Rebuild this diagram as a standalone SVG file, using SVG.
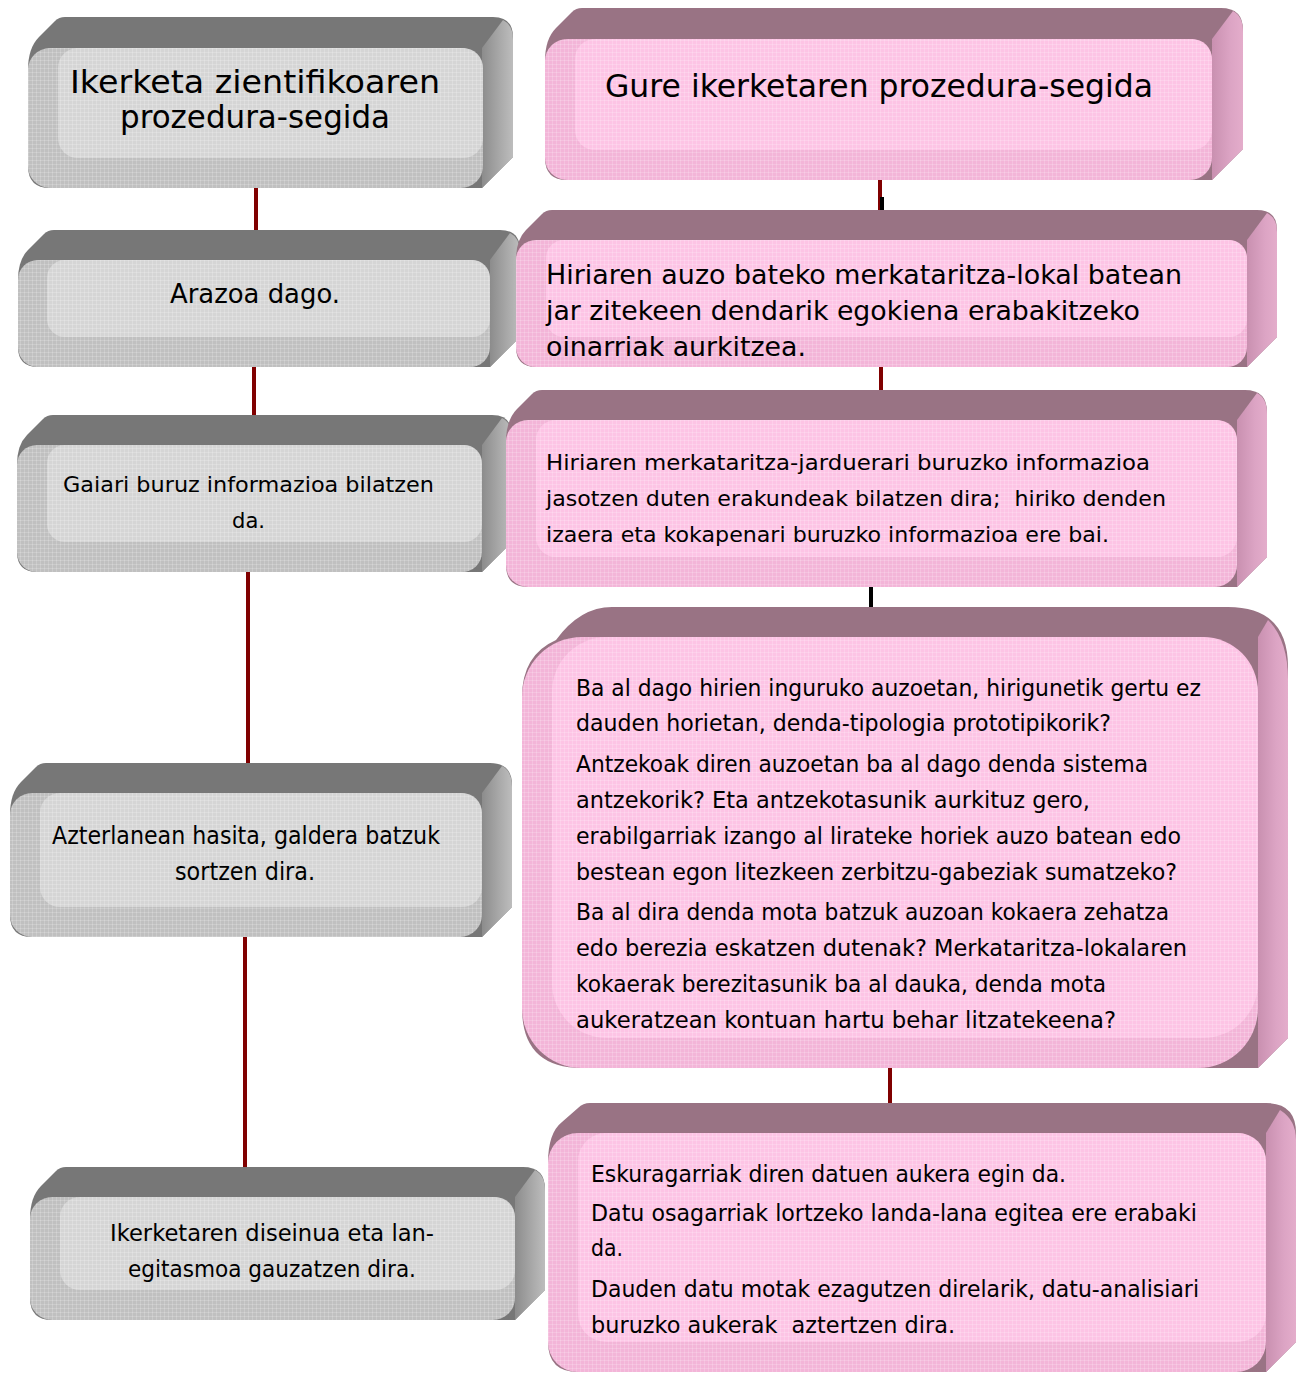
<svg xmlns="http://www.w3.org/2000/svg" width="1306" height="1374" viewBox="0 0 1306 1374">
<style>
text{font-family:"DejaVu Sans","Liberation Sans",sans-serif;fill:#000;}
.g .top{fill:#777777}.g .side{fill:url(#gSide)}.g .front{fill:#c0c0c0}.g .inner{fill:#d5d5d5}
.p .top{fill:#997384}.p .side{fill:url(#pSide)}.p .front{fill:#f3b5d8}.p .inner{fill:#fdc4e5}
.tex{fill:url(#tex)}
.red{stroke:#800000;stroke-width:4;fill:none}
.blk{stroke:#000;stroke-width:4;fill:none}
</style>
<defs>
<linearGradient id="gSide" x1="0" y1="0" x2="1" y2="0"><stop offset="0" stop-color="#8c8c8c"/><stop offset="0.6" stop-color="#aaaaaa"/><stop offset="1" stop-color="#bdbdbd"/></linearGradient>
<linearGradient id="pSide" x1="0" y1="0" x2="1" y2="0"><stop offset="0" stop-color="#c990b0"/><stop offset="0.6" stop-color="#dca4c4"/><stop offset="1" stop-color="#e4adcb"/></linearGradient>
<pattern id="tex" width="4" height="4" patternUnits="userSpaceOnUse"><rect width="4" height="1" fill="#ffffff" opacity="0.18"/><rect width="1" height="4" fill="#ffffff" opacity="0.18"/></pattern>
</defs>

<g id="connectors">
<line class="red" x1="256" y1="186" x2="256" y2="232"/>
<line class="red" x1="254" y1="365" x2="254" y2="417"/>
<line class="red" x1="248" y1="570" x2="248" y2="765"/>
<line class="red" x1="245" y1="935" x2="245" y2="1169"/>
<line class="red" x1="880" y1="178" x2="880" y2="212"/>
<line class="blk" x1="882" y1="197" x2="882" y2="212"/>
<line class="red" x1="881" y1="365" x2="881" y2="392"/>
<line class="blk" x1="871" y1="585" x2="871" y2="609"/>
<line class="red" x1="890" y1="1066" x2="890" y2="1105"/>
</g>

<g id="nodeA" class="g">
<path class="top" d="M65,17 L493,17 Q513,17 513,37 L513,157 L482,188 L50,188 Q28,188 28,166 L28,70 Q28,48 39,37 L55,21 Q59,17 65,17 Z"/>
<path class="side" d="M482,48 L503,20 Q513,25 513,40 L513,157 L482,188 Z"/>
<rect class="front" x="28" y="48" width="455" height="140" rx="22"/>
<rect class="inner" x="58" y="48" width="425" height="110" rx="20"/>
<rect class="tex" x="28" y="48" width="455" height="140" rx="22"/>
<text x="70" y="93" font-size="32" textLength="370" lengthAdjust="spacingAndGlyphs">Ikerketa zientifikoaren</text>
<text x="120" y="128" font-size="32" textLength="270" lengthAdjust="spacingAndGlyphs">prozedura-segida</text>
</g>

<g id="nodeC" class="g">
<path class="top" d="M54,230 L500,230 Q520,230 520,250 L520,337 L490,367 L38,367 Q18,367 18,347 L18,280 Q18,260 28,250 L44,234 Q48,230 54,230 Z"/>
<path class="side" d="M490,260 L510,233 Q520,238 520,252 L520,337 L490,367 Z"/>
<rect class="front" x="18" y="260" width="472" height="107" rx="20"/>
<rect class="inner" x="47" y="260" width="443" height="77" rx="18"/>
<rect class="tex" x="18" y="260" width="472" height="107" rx="20"/>
<text x="170" y="303" font-size="27" textLength="170" lengthAdjust="spacingAndGlyphs">Arazoa dago.</text>
</g>

<g id="nodeD" class="g">
<path class="top" d="M53,415 L492,415 Q512,415 512,435 L512,542 L482,572 L37,572 Q17,572 17,552 L17,465 Q17,445 27,435 L43,419 Q47,415 53,415 Z"/>
<path class="side" d="M482,445 L502,418 Q512,423 512,437 L512,542 L482,572 Z"/>
<rect class="front" x="17" y="445" width="465" height="127" rx="20"/>
<rect class="inner" x="47" y="445" width="435" height="97" rx="18"/>
<rect class="tex" x="17" y="445" width="465" height="127" rx="20"/>
<text x="63" y="492" font-size="22" textLength="371" lengthAdjust="spacingAndGlyphs">Gaiari buruz informazioa bilatzen</text>
<text x="232" y="528" font-size="22" textLength="33" lengthAdjust="spacingAndGlyphs">da.</text>
</g>

<g id="nodeE" class="g">
<path class="top" d="M46,763 L490,763 Q512,763 512,785 L512,907 L482,937 L32,937 Q10,937 10,915 L10,815 Q10,793 21,782 L36,767 Q40,763 46,763 Z"/>
<path class="side" d="M482,793 L502,766 Q512,771 512,787 L512,907 L482,937 Z"/>
<rect class="front" x="10" y="793" width="472" height="144" rx="22"/>
<rect class="inner" x="40" y="793" width="442" height="114" rx="20"/>
<rect class="tex" x="10" y="793" width="472" height="144" rx="22"/>
<text x="52" y="844" font-size="24" textLength="388" lengthAdjust="spacingAndGlyphs">Azterlanean hasita, galdera batzuk</text>
<text x="175" y="880" font-size="24" textLength="140" lengthAdjust="spacingAndGlyphs">sortzen dira.</text>
</g>

<g id="nodeF" class="g">
<path class="top" d="M66,1167 L523,1167 Q545,1167 545,1189 L545,1290 L515,1320 L52,1320 Q30,1320 30,1298 L30,1219 Q30,1197 41,1186 L56,1171 Q60,1167 66,1167 Z"/>
<path class="side" d="M515,1197 L535,1170 Q545,1175 545,1191 L545,1290 L515,1320 Z"/>
<rect class="front" x="30" y="1197" width="485" height="123" rx="22"/>
<rect class="inner" x="60" y="1197" width="455" height="93" rx="20"/>
<rect class="tex" x="30" y="1197" width="485" height="123" rx="22"/>
<text x="110" y="1241" font-size="23" textLength="324" lengthAdjust="spacingAndGlyphs">Ikerketaren diseinua eta lan-</text>
<text x="128" y="1277" font-size="23" textLength="288" lengthAdjust="spacingAndGlyphs">egitasmoa gauzatzen dira.</text>
</g>

<g id="nodeG" class="p">
<path class="top" d="M582,8 L1221,8 Q1243,8 1243,30 L1243,149 L1212,180 L567,180 Q545,180 545,158 L545,61 Q545,39 556,28 L572,12 Q576,8 582,8 Z"/>
<path class="side" d="M1212,39 L1233,11 Q1243,16 1243,32 L1243,149 L1212,180 Z"/>
<rect class="front" x="545" y="39" width="667" height="141" rx="22"/>
<rect class="inner" x="575" y="39" width="637" height="111" rx="20"/>
<rect class="tex" x="545" y="39" width="667" height="141" rx="22"/>
<text x="605" y="97" font-size="32" textLength="548" lengthAdjust="spacingAndGlyphs">Gure ikerketaren prozedura-segida</text>
</g>

<g id="nodeH" class="p">
<path class="top" d="M552,210 L1257,210 Q1277,210 1277,230 L1277,337 L1247,367 L536,367 Q516,367 516,347 L516,260 Q516,240 526,230 L542,214 Q546,210 552,210 Z"/>
<path class="side" d="M1247,240 L1267,213 Q1277,218 1277,232 L1277,337 L1247,367 Z"/>
<rect class="front" x="516" y="240" width="731" height="127" rx="20"/>
<rect class="inner" x="546" y="240" width="701" height="97" rx="18"/>
<rect class="tex" x="516" y="240" width="731" height="127" rx="20"/>
<text x="546" y="284" font-size="27" textLength="636" lengthAdjust="spacingAndGlyphs">Hiriaren auzo bateko merkataritza-lokal batean</text>
<text x="546" y="320" font-size="27" textLength="594" lengthAdjust="spacingAndGlyphs">jar zitekeen dendarik egokiena erabakitzeko</text>
<text x="546" y="356" font-size="27" textLength="260" lengthAdjust="spacingAndGlyphs">oinarriak aurkitzea.</text>
</g>

<g id="nodeI" class="p">
<path class="top" d="M542,390 L1245,390 Q1267,390 1267,412 L1267,557 L1237,587 L528,587 Q506,587 506,565 L506,442 Q506,420 517,409 L532,394 Q536,390 542,390 Z"/>
<path class="side" d="M1237,420 L1257,393 Q1267,398 1267,414 L1267,557 L1237,587 Z"/>
<rect class="front" x="506" y="420" width="731" height="167" rx="22"/>
<rect class="inner" x="536" y="420" width="701" height="137" rx="20"/>
<rect class="tex" x="506" y="420" width="731" height="167" rx="22"/>
<text x="546" y="470" font-size="22" textLength="604" lengthAdjust="spacingAndGlyphs">Hiriaren merkataritza-jarduerari buruzko informazioa</text>
<text x="546" y="506" font-size="22" textLength="620" lengthAdjust="spacingAndGlyphs" xml:space="preserve">jasotzen duten erakundeak bilatzen dira;  hiriko denden</text>
<text x="546" y="542" font-size="22" textLength="563" lengthAdjust="spacingAndGlyphs">izaera eta kokapenari buruzko informazioa ere bai.</text>
</g>

<g id="nodeJ" class="p">
<path class="top" d="M612,607 L1228,607 Q1288,607 1288,667 L1288,1038 L1258,1068 L582,1068 Q522,1068 522,1008 L522,697 Q522,655 556,640 Q580,607 612,607 Z"/>
<path class="side" d="M1258,637 L1268,620 Q1288,640 1288,680 L1288,1038 L1258,1068 Z"/>
<rect class="front" x="522" y="637" width="736" height="431" rx="60"/>
<rect class="inner" x="552" y="637" width="706" height="401" rx="55"/>
<rect class="tex" x="522" y="637" width="736" height="431" rx="60"/>
<g font-size="23">
<text x="576" y="696" textLength="625" lengthAdjust="spacingAndGlyphs">Ba al dago hirien inguruko auzoetan, hirigunetik gertu ez</text>
<text x="576" y="731" textLength="535" lengthAdjust="spacingAndGlyphs">dauden horietan, denda-tipologia prototipikorik?</text>
<text x="576" y="772" textLength="572" lengthAdjust="spacingAndGlyphs">Antzekoak diren auzoetan ba al dago denda sistema</text>
<text x="576" y="808" textLength="514" lengthAdjust="spacingAndGlyphs">antzekorik? Eta antzekotasunik aurkituz gero,</text>
<text x="576" y="844" textLength="605" lengthAdjust="spacingAndGlyphs">erabilgarriak izango al lirateke horiek auzo batean edo</text>
<text x="576" y="880" textLength="601" lengthAdjust="spacingAndGlyphs">bestean egon litezkeen zerbitzu-gabeziak sumatzeko?</text>
<text x="576" y="920" textLength="593" lengthAdjust="spacingAndGlyphs">Ba al dira denda mota batzuk auzoan kokaera zehatza</text>
<text x="576" y="956" textLength="611" lengthAdjust="spacingAndGlyphs">edo berezia eskatzen dutenak? Merkataritza-lokalaren</text>
<text x="576" y="992" textLength="530" lengthAdjust="spacingAndGlyphs">kokaerak berezitasunik ba al dauka, denda mota</text>
<text x="576" y="1028" textLength="540" lengthAdjust="spacingAndGlyphs">aukeratzean kontuan hartu behar litzatekeena?</text>
</g>
</g>

<g id="nodeK" class="p">
<path class="top" d="M590,1103 L1266,1103 Q1296,1103 1296,1133 L1296,1342 L1266,1372 L578,1372 Q548,1372 548,1342 L548,1163 Q548,1133 562,1122 L578,1108 Q583,1103 590,1103 Z"/>
<path class="side" d="M1266,1133 L1280,1110 Q1296,1120 1296,1140 L1296,1342 L1266,1372 Z"/>
<rect class="front" x="548" y="1133" width="718" height="239" rx="30"/>
<rect class="inner" x="578" y="1133" width="688" height="209" rx="28"/>
<rect class="tex" x="548" y="1133" width="718" height="239" rx="30"/>
<g font-size="23">
<text x="591" y="1182" textLength="475" lengthAdjust="spacingAndGlyphs">Eskuragarriak diren datuen aukera egin da.</text>
<text x="591" y="1221" textLength="606" lengthAdjust="spacingAndGlyphs">Datu osagarriak lortzeko landa-lana egitea ere erabaki</text>
<text x="591" y="1256" textLength="32" lengthAdjust="spacingAndGlyphs">da.</text>
<text x="591" y="1297" textLength="608" lengthAdjust="spacingAndGlyphs">Dauden datu motak ezagutzen direlarik, datu-analisiari</text>
<text x="591" y="1333" textLength="364" lengthAdjust="spacingAndGlyphs" xml:space="preserve">buruzko aukerak  aztertzen dira.</text>
</g>
</g>
</svg>
